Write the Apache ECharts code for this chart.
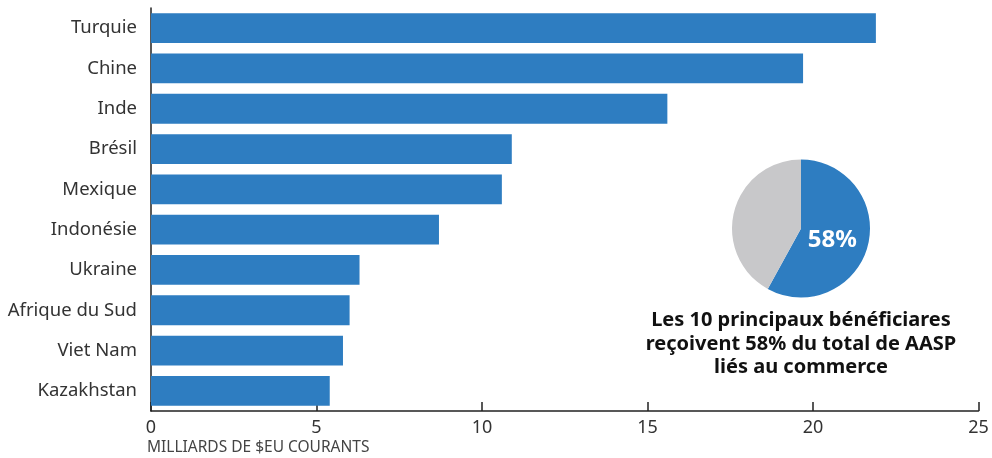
<!DOCTYPE html>
<html>
<head>
<meta charset="utf-8">
<script src="https://cdn.jsdelivr.net/npm/echarts@6/dist/echarts.min.js"></script>
<style>
  html, body { margin: 0; padding: 0; background: #fff; }
  #chart { width: 992px; height: 458px; }
</style>
</head>
<body>
<div id="chart"></div>
<script>
/* données */
var pays = ['Turquie', 'Chine', 'Inde', 'Brésil', 'Mexique', 'Indonésie', 'Ukraine', 'Afrique du Sud', 'Viet Nam', 'Kazakhstan'];
var montants = [21.9, 19.7, 15.6, 10.9, 10.6, 8.7, 6.3, 6.0, 5.8, 5.4];
var ticksX = [0, 5, 10, 15, 20, 25];
var partNoms = ['10 principaux', 'Autres'];
var partValeurs = [58, 42];

var bleu = '#2E7DC1';
var gris = '#C8C8CA';
var police = 'Noto Sans';

var chart = echarts.init(document.getElementById('chart'));
var option = {
    animation: false,
    grid: { left: 151, right: 13.5, top: 8, bottom: 47 },
    xAxis: {
        type: 'value',
        min: ticksX[0],
        max: ticksX[ticksX.length - 1],
        interval: ticksX[1] - ticksX[0],
        splitLine: { show: false },
        axisLine: { show: true, lineStyle: { color: '#222', width: 1.5 } },
        axisTick: { show: true, inside: true, length: 9, lineStyle: { color: '#222', width: 1.5 } },
        axisLabel: { color: '#333', fontSize: 18, fontFamily: police, margin: 8 }
    },
    yAxis: {
        type: 'category',
        inverse: true,
        data: pays,
        axisLine: { show: true, lineStyle: { color: '#222', width: 1.5 } },
        axisTick: { show: false },
        axisLabel: { color: '#333', fontSize: 18.5, fontFamily: police, margin: 14 }
    },
    series: [
        {
            type: 'bar',
            data: montants,
            barCategoryGap: '26%',
            itemStyle: { color: bleu }
        },
        {
            type: 'pie',
            center: [801, 228.5],
            radius: 69,
            startAngle: 90,
            clockwise: true,
            silent: true,
            labelLine: { show: false },
            data: [
                {
                    name: partNoms[0], value: partValeurs[0],
                    itemStyle: { color: bleu },
                    label: {
                        show: true, position: 'inside', formatter: '{d}%',
                        color: '#fff', fontSize: 24, fontWeight: 'bold', fontFamily: police,
                        offset: [-5, 2]
                    }
                },
                {
                    name: partNoms[1], value: partValeurs[1],
                    itemStyle: { color: gris },
                    label: { show: false }
                }
            ]
        }
    ],
    graphic: [
        {
            type: 'text',
            left: 147,
            top: 440,
            style: { text: 'MILLIARDS DE $EU COURANTS', fill: '#444', fontSize: 15.5, fontFamily: police }
        },
        {
            type: 'text',
            x: 801,
            y: 309,
            style: {
                text: 'Les 10 principaux bénéficiares\nreçoivent 58% du total de AASP\nliés au commerce',
                fill: '#111', fontSize: 20, fontWeight: 'bold', fontFamily: police,
                align: 'center', lineHeight: 23.5
            }
        }
    ]
};
chart.setOption(option);
</script>
</body>
</html>
